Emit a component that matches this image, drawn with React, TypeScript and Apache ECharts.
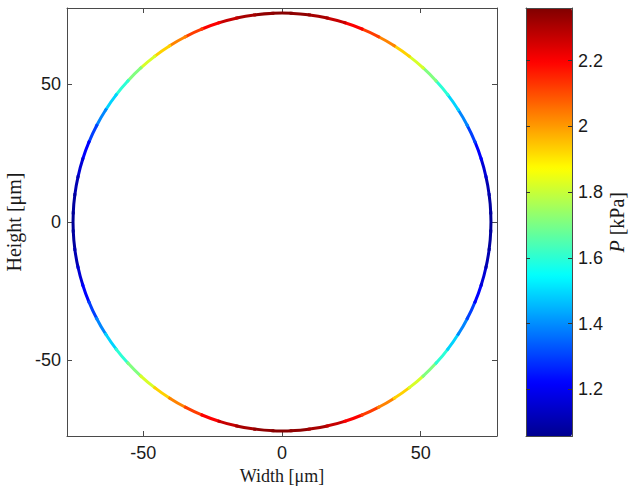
import React, { useEffect, useRef } from "react";
import * as echarts from "echarts";

// Radius of the circular cross-section [μm]
const radius = 75.5;

// Angular positions along the contour [deg], counter-clockwise from +x
const angleDeg = [
  0, 5, 10, 15, 20, 25, 30, 35, 40, 45, 50, 55, 60, 65, 70, 75, 80, 85, 90,
  95, 100, 105, 110, 115, 120, 125, 130, 135, 140, 145, 150, 155, 160, 165, 170, 175, 180,
  185, 190, 195, 200, 205, 210, 215, 220, 225, 230, 235, 240, 245, 250, 255, 260, 265, 270,
  275, 280, 285, 290, 295, 300, 305, 310, 315, 320, 325, 330, 335, 340, 345, 350, 355,
];

// Pressure P [kPa]
const pressure = [
  1.07, 1.08, 1.11, 1.16, 1.22, 1.30, 1.39, 1.49, 1.60, 1.71, 1.82, 1.93, 2.03, 2.12, 2.20, 2.27, 2.31, 2.34, 2.35,
  2.34, 2.31, 2.27, 2.20, 2.12, 2.03, 1.93, 1.82, 1.71, 1.60, 1.49, 1.39, 1.30, 1.22, 1.16, 1.11, 1.08, 1.07,
  1.08, 1.11, 1.16, 1.22, 1.30, 1.39, 1.49, 1.60, 1.71, 1.82, 1.93, 2.03, 2.12, 2.20, 2.27, 2.31, 2.34, 2.35,
  2.34, 2.31, 2.27, 2.20, 2.12, 2.03, 1.93, 1.82, 1.71, 1.60, 1.49, 1.39, 1.30, 1.22, 1.16, 1.11, 1.08,
];

const xTicks = [-50, 0, 50];
const yTicks = [-50, 0, 50];
const pTicks = [1.2, 1.4, 1.6, 1.8, 2, 2.2];
const pMin = 1.057;
const pMax = 2.36;
const axisMin = -77.5;
const axisMax = 77.5;

const jet = [
  "#00008F", "#0000FF", "#0080FF", "#00FFFF", "#80FF80",
  "#FFFF00", "#FF8000", "#FF0000", "#800000",
];

const lineColor = "#4a4a4a";
const labelFont = { fontFamily: "Liberation Sans, Arial, sans-serif", fontSize: 18, color: "#1a1a1a" };
const serif = "Liberation Serif, Times New Roman, serif";

export default function App() {
  const ref = useRef<HTMLDivElement>(null);

  useEffect(() => {
    if (!ref.current) return;
    const chart = echarts.init(ref.current, null, { renderer: "svg" });

    const data = angleDeg.map((a, i) => [a, pressure[i]]);
    const step = 5;

    const boxAxis = (extra: any) => ({
      min: axisMin,
      max: axisMax,
      axisLine: { show: true, onZero: false, lineStyle: { color: lineColor, width: 1 } },
      splitLine: { show: false },
      ...extra,
    });

    const option: any = {
      animation: false,
      backgroundColor: "#ffffff",
      grid: [
        { left: 67, top: 8, width: 430, height: 428, containLabel: false, outerBoundsMode: "none" },
        { left: 526, top: 8, width: 46, height: 428.5, containLabel: false, outerBoundsMode: "none" },
      ],
      xAxis: [
        boxAxis({
          gridIndex: 0,
          type: "value",
          position: "bottom",
          name: "Width [μm]",
          nameLocation: "middle",
          nameGap: 30,
          nameTextStyle: { fontFamily: serif, fontSize: 18, color: "#1a1a1a" },
          axisTick: { show: true, inside: true, length: 5, customValues: xTicks, lineStyle: { color: lineColor } },
          axisLabel: { show: true, margin: 8, customValues: xTicks, ...labelFont },
        }),
        boxAxis({
          gridIndex: 0,
          type: "value",
          position: "top",
          axisTick: { show: true, inside: true, length: 5, customValues: xTicks, lineStyle: { color: lineColor } },
          axisLabel: { show: false },
        }),
        {
          gridIndex: 1, type: "value", position: "bottom", min: 0, max: 1, z: 10,
          axisLine: { show: true, onZero: false, lineStyle: { color: lineColor } },
          axisTick: { show: false }, axisLabel: { show: false }, splitLine: { show: false },
        },
        {
          gridIndex: 1, type: "value", position: "top", min: 0, max: 1, z: 10,
          axisLine: { show: true, onZero: false, lineStyle: { color: lineColor } },
          axisTick: { show: false }, axisLabel: { show: false }, splitLine: { show: false },
        },
      ],
      yAxis: [
        boxAxis({
          gridIndex: 0,
          type: "value",
          position: "left",
          name: "Height [μm]",
          nameLocation: "middle",
          nameGap: 33,
          nameRotate: 90,
          nameTextStyle: { fontFamily: serif, fontSize: 20, color: "#1a1a1a" },
          axisTick: { show: true, inside: true, length: 5, customValues: yTicks, lineStyle: { color: lineColor } },
          axisLabel: { show: true, margin: 6, customValues: yTicks, ...labelFont },
        }),
        boxAxis({
          gridIndex: 0,
          type: "value",
          position: "right",
          axisTick: { show: true, inside: true, length: 5, customValues: yTicks, lineStyle: { color: lineColor } },
          axisLabel: { show: false },
        }),
        {
          gridIndex: 1, type: "value", position: "left", min: pMin, max: pMax, z: 10,
          axisLine: { show: true, onZero: false, lineStyle: { color: lineColor } },
          axisTick: { show: true, inside: true, length: 4, customValues: pTicks, lineStyle: { color: "#333" } },
          axisLabel: { show: false }, splitLine: { show: false },
        },
        {
          gridIndex: 1, type: "value", position: "right", min: pMin, max: pMax, z: 10,
          name: "{i|P} [kPa]",
          nameLocation: "middle",
          nameGap: 35,
          nameRotate: 90,
          nameTextStyle: {
            fontFamily: serif, fontSize: 20, color: "#1a1a1a",
            rich: { i: { fontFamily: serif, fontSize: 20, color: "#1a1a1a", fontStyle: "italic" } },
          },
          axisLine: { show: true, onZero: false, lineStyle: { color: lineColor } },
          axisTick: { show: true, inside: true, length: 4, customValues: pTicks, lineStyle: { color: "#333" } },
          axisLabel: { show: true, margin: 6, customValues: pTicks, ...labelFont },
          splitLine: { show: false },
        },
      ],
      visualMap: {
        type: "continuous",
        min: pMin,
        max: pMax,
        dimension: 1,
        seriesIndex: 0,
        show: true,
        calculable: false,
        hoverLink: false,
        orient: "vertical",
        left: 526,
        top: 8,
        padding: 0,
        itemWidth: 46,
        itemHeight: 428.5,
        text: null,
        inRange: { color: jet },
      },
      series: [
        {
          type: "custom",
          coordinateSystem: "cartesian2d",
          xAxisIndex: 0,
          yAxisIndex: 0,
          dimensions: ["angle", "P"],
          encode: { x: -1, y: -1 },
          data,
          renderItem: (params: any, api: any) => {
            const a = api.value(0);
            const c = api.coord([0, 0]);
            const s = api.size([radius, radius]);
            const r = (s[0] + s[1]) / 2;
            const half = step / 2 + 0.4;
            return {
              type: "arc",
              shape: {
                cx: c[0],
                cy: c[1],
                r,
                startAngle: (-(a + half) * Math.PI) / 180,
                endAngle: (-(a - half) * Math.PI) / 180,
                clockwise: true,
              },
              style: { stroke: api.visual("color"), lineWidth: 3, fill: null },
            };
          },
        },
      ],
    };

    chart.setOption(option);
    return () => chart.dispose();
  }, []);

  return <div ref={ref} style={{ width: 630, height: 487, position: "absolute", left: 0, top: 0 }} />;
}
